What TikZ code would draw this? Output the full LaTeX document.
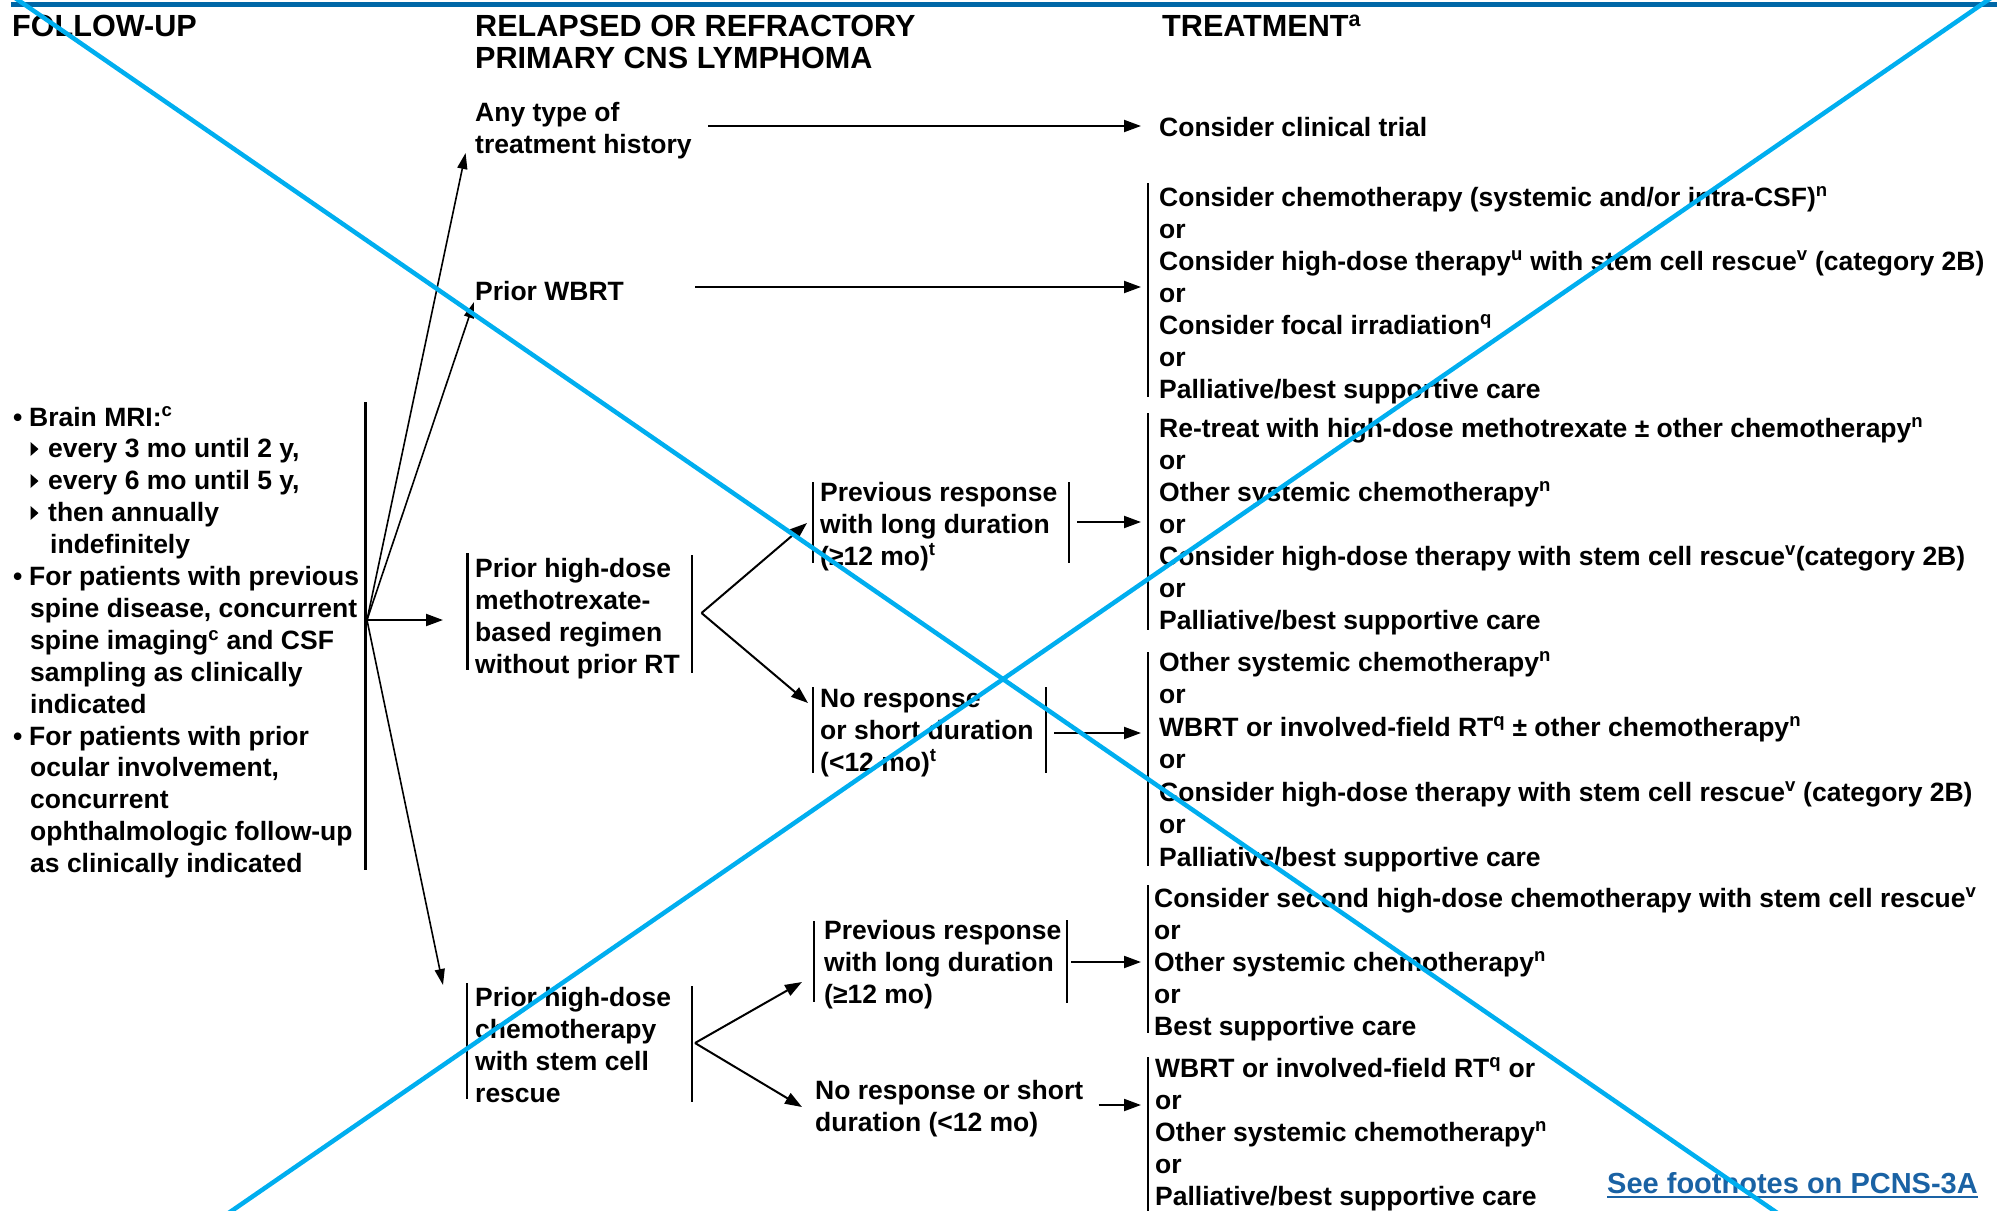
\documentclass[tikz,border=0pt]{standalone}
\usepackage{fontspec}
\setmainfont{Liberation Sans}
\usetikzlibrary{arrows.meta,calc}
\definecolor{barblue}{HTML}{0067A7}
\definecolor{crossblue}{HTML}{00AEEF}
\definecolor{linkblue}{HTML}{1A62A4}
\newcommand\sps[1]{\textsuperscript{#1}}
\newcommand\bul{\makebox[16pt][l]{•}}

\begin{document}
\begin{tikzpicture}[x=1pt,y=-1pt,
  body/.style={anchor=base west,inner sep=0pt,align=left,
    font=\fontsize{26.5}{32}\selectfont\bfseries},
  head/.style={anchor=base west,inner sep=0pt,align=left,
    font=\fontsize{30.6}{32}\selectfont\bfseries},
  rule/.style={line width=2.4pt},
  conn/.style={line width=2pt,-{Triangle[length=17pt,width=12pt]}},
  fan/.style={line width=1.6pt,-{Triangle[length=16pt,width=10pt]}}]
\useasboundingbox (0,0) rectangle (1997,1210);
% (multi-line nodes are placed by the baseline of their last line)

% column headings
\node[head] (hfu)  at (12,36)   {FOLLOW-UP};
\node[head] (hrel) at (475,68)  {RELAPSED OR REFRACTORY\\PRIMARY CNS LYMPHOMA};
\node[head] (htr)  at (1162,36) {TREATMENT\sps{a}};

% follow-up schedule
\node[body,font=\fontsize{26.5}{31.9}\selectfont\bfseries] (fu) at (13,872.6) {%
  \bul Brain MRI:\sps{c}\\
  \hspace*{35pt}every 3 mo until 2 y,\\
  \hspace*{35pt}every 6 mo until 5 y,\\
  \hspace*{35pt}then annually\\
  \hspace*{37pt}indefinitely\\
  \bul For patients with previous\\
  \hspace*{17pt}spine disease, concurrent\\
  \hspace*{17pt}spine imaging\sps{c} and CSF\\
  \hspace*{17pt}sampling as clinically\\
  \hspace*{17pt}indicated\\
  \bul For patients with prior\\
  \hspace*{17pt}ocular involvement,\\
  \hspace*{17pt}concurrent\\
  \hspace*{17pt}ophthalmologic follow-up\\
  \hspace*{17pt}as clinically indicated};
\foreach \yy in {449,481,513}
  \fill (30.5,\yy-7) -- (38.5,\yy) -- (30.5,\yy+7) -- cycle;
\draw[rule] (365.4,402) -- (365.4,870);
\coordinate (fuout) at (367,620);

% relapse situations
\node[body] (anytype) at (475,153)  {Any type of\\treatment history};
\node[body] (wbrt)    at (475,300)  {Prior WBRT};
\node[body] (mtx)     at (475,673)  {Prior high-dose\\methotrexate-\\based regimen\\without prior RT};
\node[body] (hct)     at (475,1102) {Prior high-dose\\chemotherapy\\with stem cell\\rescue};
\draw[rule] (467.5,553) -- (467.5,670);
\draw[rule] (692,555) -- (692,673);
\draw[rule] (467,983) -- (467,1099);
\draw[rule] (692,986) -- (692,1102);

% response to prior therapy
\node[body] (prl1) at (820,565)  {Previous response\\with long duration\\(≥12 mo)\sps{t}};
\node[body] (nr1)  at (820,771)  {No response\\or short duration\\(<12 mo)\sps{t}};
\node[body] (prl2) at (824,1003) {Previous response\\with long duration\\(≥12 mo)};
\node[body] (nr2)  at (815,1131) {No response or short\\duration (<12 mo)};
\draw[rule] (813,482) -- (813,563);
\draw[rule] (1069,482) -- (1069,563);
\draw[rule] (813,687) -- (813,773);
\draw[rule] (1046,687) -- (1046,773);
\draw[rule] (814,921) -- (814,1002);
\draw[rule] (1067,920) -- (1067,1003);

% treatment options
\node[body] (t1) at (1159,136) {Consider clinical trial};
\node[body] (t2) at (1159,398) {Consider chemotherapy (systemic and/or intra-CSF)\sps{n}\\or\\Consider high-dose therapy\sps{u} with stem cell rescue\sps{v} (category 2B)\\or\\Consider focal irradiation\sps{q}\\or\\Palliative/best supportive care};
\node[body] (t3) at (1159,629) {Re-treat with high-dose methotrexate ± other chemotherapy\sps{n}\\or\\Other systemic chemotherapy\sps{n}\\or\\Consider high-dose therapy with stem cell rescue\sps{v}(category 2B)\\or\\Palliative/best supportive care};
\node[body,font=\fontsize{26.5}{32.5}\selectfont\bfseries] (t4) at (1159,866) {Other systemic chemotherapy\sps{n}\\or\\WBRT or involved-field RT\sps{q} ± other chemotherapy\sps{n}\\or\\Consider high-dose therapy with stem cell rescue\sps{v} (category 2B)\\or\\Palliative/best supportive care};
\node[body] (t5) at (1154,1035) {Consider second high-dose chemotherapy with stem cell rescue\sps{v}\\or\\Other systemic chemotherapy\sps{n}\\or\\Best supportive care};
\node[body] (t6) at (1155,1205) {WBRT or involved-field RT\sps{q} or\\or\\Other systemic chemotherapy\sps{n}\\or\\Palliative/best supportive care};
\draw[rule] (1148,183) -- (1148,397);
\draw[rule] (1148,413) -- (1148,630);
\draw[rule] (1148,652) -- (1148,866);
\draw[rule] (1148,885) -- (1148,1033);
\draw[rule] (1148,1057) -- (1148,1212);

% connectors from follow-up
\draw[fan] (fuout) -- ($(anytype.base west)+(-9.4,0)$);
\draw[fan] (fuout) -- ($(wbrt.base west)+(-1,2)$);
\draw[conn] (fuout) -- ($(mtx.base west)+(-32,-53)$);
\draw[fan] (fuout) -- ($(hct.base west)+(-32,-117)$);

% branches by response duration
\coordinate (mtxout) at ($(mtx.base west)+(226.5,-60)$);
\draw[conn] (mtxout) -- ($(prl1.base west)+(-13,-42)$);
\draw[conn] (mtxout) -- ($(nr1.base west)+(-12,-68)$);
\coordinate (hctout) at ($(hct.base west)+(220,-59)$);
\draw[conn] (hctout) -- ($(prl2.base west)+(-22,-21)$);
\draw[conn] (hctout) -- ($(nr2.base west)+(-13,-24)$);

% connectors to treatment
\draw[conn] ($(anytype.base west)+(233,-27)$) -- ($(t1.base west)+(-18,-10)$);
\draw[conn] ($(wbrt.base west)+(220,-13)$) -- ($(t2.base west)+(-18,-111)$);
\draw[conn] ($(prl1.base west)+(257,-43)$) -- ($(t3.base west)+(-18,-107)$);
\draw[conn] ($(nr1.base west)+(234,-38)$) -- ($(t4.base west)+(-18,-133)$);
\draw[conn] ($(prl2.base west)+(247,-41)$) -- ($(t5.base west)+(-13,-73)$);
\draw[conn] ($(nr2.base west)+(283.5,-26)$) -- ($(t6.base west)+(-14,-100)$);

% footnote link
\node[anchor=base west,inner sep=0pt,font=\fontsize{29}{32}\selectfont\bfseries,text=linkblue]
  (foot) at (1607,1193) {See footnotes on PCNS-3A};
\draw[linkblue,line width=2pt] ($(foot.base west)+(0,4)$) -- ($(foot.base east)+(0,4)$);

% top rule and cross-out lines
\fill[barblue] (11,1.7) rectangle (1997,6.7);
\begin{scope}
\clip (0,0) rectangle (1997,1210);
\draw[crossblue,line width=4.5pt] (10.75,-5) -- (1780.25,1215);
\draw[crossblue,line width=4.5pt] (225.7,1215) -- (1995.3,-5);
\end{scope}
\end{tikzpicture}
\end{document}
